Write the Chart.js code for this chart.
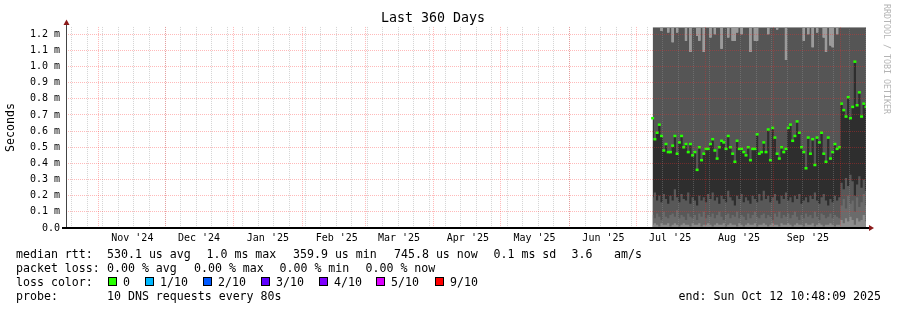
<!DOCTYPE html>
<html>
<head>
<meta charset="utf-8">
<script src="https://cdn.jsdelivr.net/npm/chart.js@4.4.0/dist/chart.umd.min.js"></script>
<style>
  body { margin: 0; background: #fff; }
  #wrap { position: relative; width: 897px; height: 310px; font-family: "DejaVu Sans Mono", monospace; color: #000; }
  #wrap canvas { position: absolute; left: 0; top: 0; }
  .t { position: absolute; font-size: 11.6px; line-height: 14px; white-space: pre; }
  .box { position: absolute; width: 9px; height: 9px; box-sizing: border-box; border: 1px solid #000; }
  #mark { position: absolute; left: 882px; top: 4px; font-size: 8.3px; color: #b4b4b4; writing-mode: vertical-rl; white-space: pre; }
</style>
</head>
<body>
<div id="wrap">
  <canvas id="smoke" width="897" height="310"></canvas>
  <div id="mark">RRDTOOL / TOBI OETIKER</div>
  <div id="foot"></div>
</div>
<script>
// -------------------- DATA (ms, one sample per day) --------------------
// day 0 = Oct 17 2024 10:48, day 360 = Oct 12 2025 10:48
const firstDay = 264;

const medianMs = [
  0.68, 0.55, 0.59, 0.64, 0.57, 0.48, 0.52, 0.47, 0.47, 0.51,
  0.57, 0.46, 0.53, 0.57, 0.50, 0.52, 0.47, 0.52, 0.45, 0.47,
  0.36, 0.50, 0.42, 0.46, 0.49, 0.49, 0.52, 0.55, 0.48, 0.43,
  0.50, 0.54, 0.53, 0.49, 0.57, 0.50, 0.46, 0.41, 0.54, 0.49,
  0.49, 0.47, 0.45, 0.50, 0.42, 0.49, 0.49, 0.58, 0.46, 0.47,
  0.53, 0.47, 0.61, 0.42, 0.62, 0.56, 0.46, 0.43, 0.50, 0.47,
  0.49, 0.62, 0.64, 0.54, 0.57, 0.66, 0.59, 0.50, 0.47, 0.37,
  0.56, 0.46, 0.55, 0.39, 0.56, 0.53, 0.59, 0.46, 0.41, 0.56,
  0.43, 0.47, 0.52, 0.49, 0.50, 0.77, 0.73, 0.69, 0.81, 0.68,
  0.75, 1.03, 0.76, 0.84, 0.69, 0.77, 0.75
];

// lower edge of the slowest pings (hangs down from the top)
const maxEdgeMs = [
  1.24, 1.24, 1.24, 1.24, 1.22, 1.24, 1.24, 1.21, 1.24, 1.15,
  1.24, 1.21, 1.24, 1.24, 1.24, 1.16, 1.24, 1.09, 1.24, 1.24,
  1.19, 1.16, 1.24, 1.09, 1.24, 1.24, 1.18, 1.24, 1.20, 1.24,
  1.24, 1.11, 1.24, 1.24, 1.18, 1.24, 1.16, 1.16, 1.21, 1.24,
  1.20, 1.24, 1.24, 1.24, 1.09, 1.24, 1.16, 1.16, 1.24, 1.24,
  1.24, 1.24, 1.20, 1.24, 1.24, 1.24, 1.23, 1.24, 1.24, 1.24,
  1.04, 1.24, 1.24, 1.24, 1.24, 1.24, 1.24, 1.24, 1.16, 1.24,
  1.20, 1.24, 1.12, 1.24, 1.21, 1.24, 1.24, 1.18, 1.09, 1.24,
  1.13, 1.12, 1.24, 1.20, 1.24, 1.24, 1.24, 1.24, 1.24, 1.24,
  1.24, 1.24, 1.24, 1.24, 1.24, 1.24, 1.24
];

const midTopMs = [
  0.19, 0.22, 0.17, 0.20, 0.16, 0.21, 0.18, 0.15, 0.20, 0.17,
  0.24, 0.19, 0.16, 0.21, 0.18, 0.17, 0.22, 0.15, 0.19, 0.17,
  0.14, 0.20, 0.17, 0.19, 0.16, 0.21, 0.18, 0.22, 0.17, 0.19,
  0.15, 0.20, 0.18, 0.16, 0.23, 0.19, 0.17, 0.14, 0.20, 0.18,
  0.21, 0.16, 0.19, 0.17, 0.15, 0.20, 0.18, 0.16, 0.21, 0.17,
  0.23, 0.18, 0.20, 0.16, 0.19, 0.21, 0.17, 0.15, 0.20, 0.18,
  0.22, 0.17, 0.19, 0.16, 0.20, 0.18, 0.21, 0.15, 0.17, 0.19,
  0.16, 0.20, 0.18, 0.22, 0.17, 0.15, 0.19, 0.21, 0.17, 0.14,
  0.18, 0.16, 0.20, 0.17, 0.19, 0.28, 0.24, 0.31, 0.26, 0.33,
  0.29, 0.20, 0.27, 0.32, 0.25, 0.30, 0.23
];

const lowTopMs = [
  0.08, 0.06, 0.09, 0.07, 0.05, 0.10, 0.07, 0.06, 0.08, 0.09,
  0.07, 0.11, 0.06, 0.08, 0.07, 0.05, 0.09, 0.07, 0.06, 0.08,
  0.05, 0.09, 0.07, 0.10, 0.06, 0.08, 0.07, 0.09, 0.06, 0.08,
  0.10, 0.07, 0.05, 0.08, 0.09, 0.06, 0.08, 0.07, 0.10, 0.06,
  0.08, 0.07, 0.05, 0.09, 0.06, 0.08, 0.10, 0.07, 0.06, 0.08,
  0.09, 0.06, 0.08, 0.07, 0.05, 0.09, 0.07, 0.10, 0.06, 0.08,
  0.07, 0.09, 0.06, 0.08, 0.10, 0.07, 0.05, 0.08, 0.06, 0.09,
  0.07, 0.08, 0.06, 0.10, 0.07, 0.05, 0.09, 0.08, 0.06, 0.07,
  0.09, 0.06, 0.08, 0.07, 0.06, 0.14, 0.18, 0.12, 0.20, 0.15,
  0.17, 0.10, 0.19, 0.13, 0.16, 0.21, 0.14
];

const baseTopMs = [
  0.02, 0.03, 0.02, 0.01, 0.03, 0.02, 0.02, 0.03, 0.01, 0.02,
  0.03, 0.02, 0.01, 0.02, 0.03, 0.02, 0.02, 0.01, 0.03, 0.02,
  0.02, 0.03, 0.01, 0.02, 0.02, 0.03, 0.02, 0.01, 0.02, 0.03,
  0.02, 0.02, 0.03, 0.01, 0.02, 0.03, 0.02, 0.02, 0.01, 0.03,
  0.02, 0.01, 0.02, 0.03, 0.02, 0.02, 0.03, 0.01, 0.02, 0.02,
  0.03, 0.02, 0.01, 0.02, 0.03, 0.02, 0.02, 0.01, 0.03, 0.02,
  0.02, 0.03, 0.02, 0.01, 0.02, 0.03, 0.02, 0.02, 0.01, 0.03,
  0.02, 0.02, 0.03, 0.01, 0.02, 0.03, 0.02, 0.01, 0.02, 0.02,
  0.03, 0.02, 0.01, 0.02, 0.02, 0.05, 0.03, 0.06, 0.04, 0.07,
  0.05, 0.02, 0.06, 0.04, 0.05, 0.08, 0.04
];

// -------------------- AXES --------------------
const monthStarts = [14.55, 44.55, 75.55, 106.55, 134.55, 165.55, 195.55, 226.55, 256.55, 287.55, 318.55, 348.55];
const monthLabels = ["Nov '24", "Dec '24", "Jan '25", "Feb '25", "Mar '25", "Apr '25",
                     "May '25", "Jun '25", "Jul '25", "Aug '25", "Sep '25"];
const labelOffset = 15.3;   // labels sit mid-month
const firstSunday = 2.55;   // Oct 20 2024
const yTicks = [0, 0.1, 0.2, 0.3, 0.4, 0.5, 0.6, 0.7, 0.8, 0.9, 1.0, 1.1, 1.2];

const lossLabels = ["0", "1/10", "2/10", "3/10", "4/10", "5/10", "9/10"];
const lossColors = ["#26ff00", "#00b8ff", "#0059ff", "#5e00ff", "#7e00ff", "#dd00ff", "#ff0000"];

// -------------------- CHART --------------------
const MONO = "DejaVu Sans Mono";
const MAJOR = "rgba(255,40,40,0.32)";
const MINOR = "rgba(150,150,150,0.4)";

const days = medianMs.map((_, i) => firstDay + i);
const pts = arr => arr.map((v, i) => ({ x: days[i], y: v }));
const weekLines = [];
for (let d = firstSunday; d < 360; d += 7) weekLines.push(d);

function band(label, arr, color, fill) {
  return {
    label, data: pts(arr), fill, stepped: "middle",
    backgroundColor: color, borderColor: "rgba(0,0,0,0)", borderWidth: 0, pointRadius: 0
  };
}

const axisArrows = {
  id: "axisArrows",
  afterDraw(chart) {
    const { ctx, chartArea: a } = chart;
    ctx.save();
    ctx.strokeStyle = "#444";
    ctx.lineWidth = 1;
    ctx.beginPath();
    ctx.moveTo(a.left + 0.5, a.bottom);
    ctx.lineTo(a.left + 0.5, a.top - 3);
    ctx.stroke();
    ctx.strokeStyle = "#000";
    ctx.lineWidth = 2;
    ctx.beginPath();
    ctx.moveTo(a.left - 4, a.bottom);
    ctx.lineTo(a.right + 3, a.bottom);
    ctx.stroke();
    ctx.fillStyle = "#8b1a1a";
    ctx.beginPath();
    ctx.moveTo(a.left + 0.5, a.top - 7.5);
    ctx.lineTo(a.left - 2.5, a.top - 2);
    ctx.lineTo(a.left + 3.5, a.top - 2);
    ctx.fill();
    ctx.beginPath();
    ctx.moveTo(a.right + 8, a.bottom);
    ctx.lineTo(a.right + 3, a.bottom - 3);
    ctx.lineTo(a.right + 3, a.bottom + 3);
    ctx.fill();
    ctx.restore();
  }
};

new Chart(document.getElementById("smoke").getContext("2d"), {
  type: "line",
  data: {
    datasets: [
      {
        label: "median rtt", data: pts(medianMs), showLine: false,
        pointStyle: "line", pointRadius: 1.5, pointBorderWidth: 2.5,
        pointBorderColor: lossColors[0], pointBackgroundColor: lossColors[0], pointHoverRadius: 0
      },
      band("base", baseTopMs, "#8d8d8d", "origin"),
      band("low", lowTopMs, "#6b6b6b", "origin"),
      band("mid", midTopMs, "#585858", "origin"),
      band("dark", medianMs, "#2e2e2e", "origin"),
      band("smoke", maxEdgeMs, "#555555", "origin"),
      band("max", maxEdgeMs, "#9b9b9b", "end")
    ]
  },
  options: {
    responsive: false,
    animation: false,
    devicePixelRatio: 1,
    layout: { padding: { left: 0, right: 31, top: 0, bottom: 60 } },
    plugins: {
      legend: { display: false },
      tooltip: { enabled: false },
      title: {
        display: true, text: "Last 360 Days", color: "#000",
        font: { family: MONO, size: 13.3, weight: "normal" },
        padding: { top: 11, bottom: 0 }
      }
    },
    scales: {
      x: {
        type: "linear", min: 0, max: 360, position: "bottom",
        grid: { color: MINOR, lineWidth: 1, drawTicks: false, z: 1 },
        border: { display: false, dash: [1, 1] },
        ticks: { display: false },
        afterBuildTicks: s => { s.ticks = weekLines.map(v => ({ value: v })); },
        afterFit: s => { s.height = 0; }
      },
      x2: {
        type: "linear", min: 0, max: 360, position: "bottom",
        grid: { color: MAJOR, lineWidth: 1, drawTicks: false, z: 2 },
        border: { display: false, dash: [1, 1] },
        ticks: { display: false },
        afterBuildTicks: s => { s.ticks = monthStarts.map(v => ({ value: v })); },
        afterFit: s => { s.height = 0; }
      },
      x3: {
        type: "linear", min: 0, max: 360, position: "bottom", weight: 1,
        grid: { display: false, drawTicks: false },
        border: { display: false },
        ticks: {
          autoSkip: false, maxRotation: 0, padding: 4, color: "#000",
          font: { family: MONO, size: 10 },
          callback: (v, i) => monthLabels[i]
        },
        afterBuildTicks: s => { s.ticks = monthLabels.map((_, i) => ({ value: monthStarts[i] + labelOffset })); },
        afterFit: s => { s.height = 22; }
      },
      y: {
        type: "linear", min: 0, max: 1.245,
        grid: { color: MAJOR, lineWidth: 1, tickLength: 3, tickColor: "rgba(0,0,0,0)", z: 2 },
        border: { display: false, dash: [1, 1] },
        ticks: {
          padding: 3, color: "#000", font: { family: MONO, size: 10 },
          callback: v => (v === 0 ? "0.0" : v.toFixed(1) + " m")
        },
        title: {
          display: true, text: "Seconds", color: "#000",
          font: { family: MONO, size: 11.6 }, padding: { top: 4, bottom: 0 }
        },
        afterBuildTicks: s => { s.ticks = yTicks.map(v => ({ value: v })); },
        afterFit: s => { s.width = 66; }
      }
    }
  },
  plugins: [axisArrows]
});

// -------------------- LEGEND TEXT --------------------
const foot = document.getElementById("foot");
function put(text, left, cy) {
  const el = document.createElement("div");
  el.className = "t";
  el.textContent = text;
  el.style.left = left + "px";
  el.style.top = (cy - 7) + "px";
  foot.appendChild(el);
  return el;
}
put("median rtt:", 16, 254);
put("530.1 us avg", 107, 254);
put("1.0 ms max", 206.5, 254);
put("359.9 us min", 293, 254);
put("745.8 us now", 394, 254);
put("0.1 ms sd", 493.5, 254);
put("3.6", 571.5, 254);
put("am/s", 614, 254);

put("packet loss:", 16, 268);
put("0.00 % avg", 107, 268);
put("0.00 % max", 194, 268);
put("0.00 % min", 279.5, 268);
put("0.00 % now", 365.5, 268);

put("loss color:", 16, 282);
const boxX = [108, 145, 203, 261, 319, 376, 435];
lossLabels.forEach((lab, i) => {
  const b = document.createElement("div");
  b.className = "box";
  b.style.left = boxX[i] + "px";
  b.style.top = "277px";
  b.style.background = lossColors[i];
  foot.appendChild(b);
  put(lab, boxX[i] + 15, 282);
});

put("probe:", 16, 296);
put("10 DNS requests every 80s", 107, 296);
const endEl = put("end: Sun Oct 12 10:48:09 2025", 0, 296);
endEl.style.left = "auto";
endEl.style.right = (897 - 881) + "px";
</script>
</body>
</html>
